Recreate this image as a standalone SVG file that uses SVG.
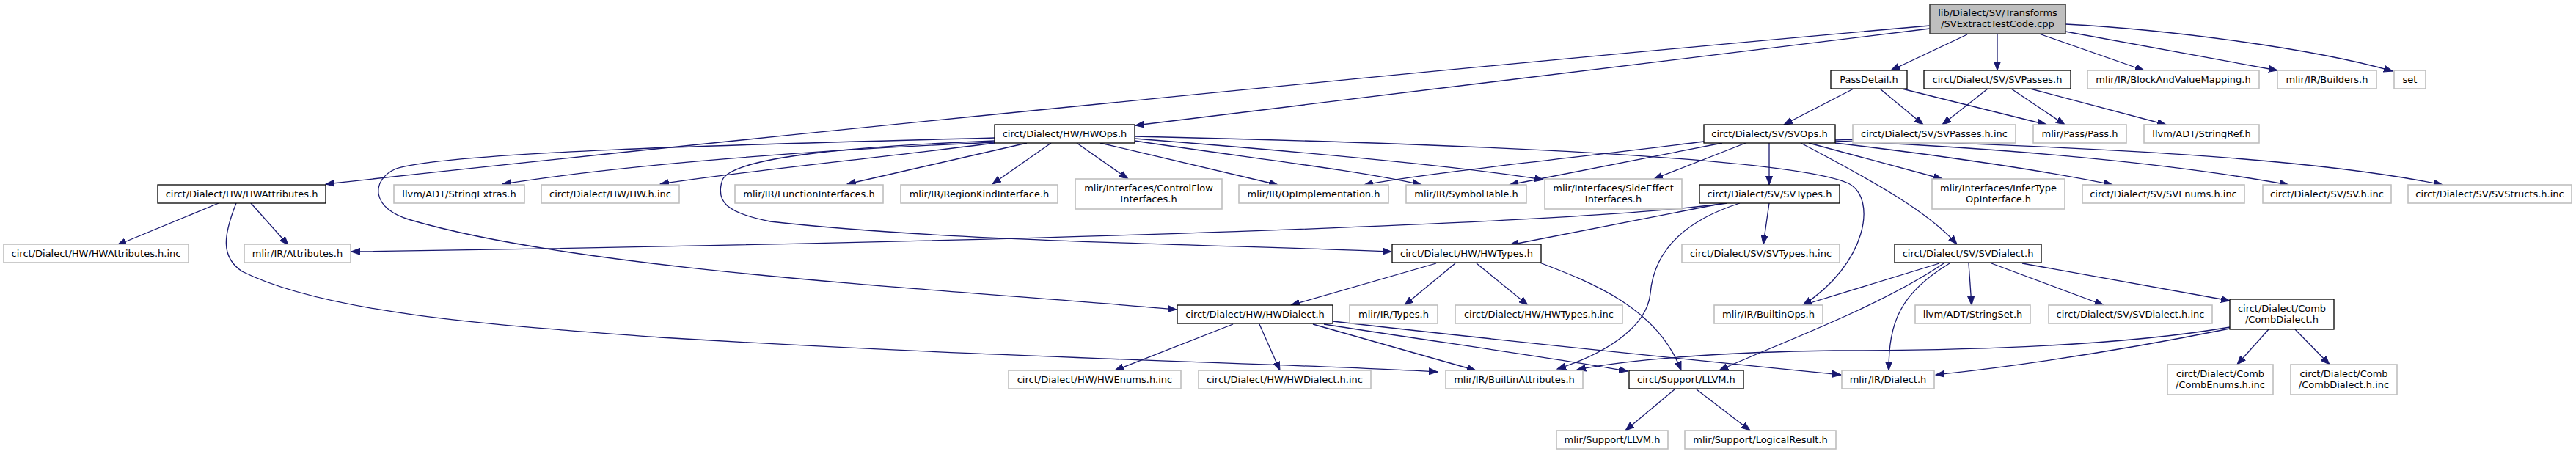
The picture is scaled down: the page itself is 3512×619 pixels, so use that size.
<svg xmlns="http://www.w3.org/2000/svg" width="3512" height="619" viewBox="0 0 3512 619">
<style>
.node rect{fill:#fff;stroke:#000;stroke-width:1.3}
.leaf rect{fill:#fff;stroke:#bfbfbf;stroke-width:1.6}
.main rect{fill:#bfbfbf;stroke:#404040;stroke-width:1.6}
text{font-family:"DejaVu Sans","Liberation Sans",sans-serif;font-size:13px;text-anchor:middle;fill:#000}
#edges path{fill:none;stroke:#191970;stroke-width:1.3;marker-end:url(#arr)}
</style>
<defs>
<marker id="arr" markerWidth="13" markerHeight="10" refX="12" refY="5" orient="auto" markerUnits="userSpaceOnUse">
<path d="M0,0.5 L12,5 L0,9.5 z" fill="#191970" stroke="#191970" stroke-width="1"/>
</marker>
</defs>
<rect width="3512" height="619" fill="#fff"/>
<g id="edges">
<path d="M2682,47 L2578,96"/>
<path d="M2723,46 L2723,96"/>
<path d="M2780,46 L2923,96"/>
<path d="M2816,43 L3105,96"/>
<path d="M2816,33 C2950,40 3150,65 3262,97"/>
<path d="M2631,35 C2000,90 1000,190 444,251"/>
<path d="M2631,39 L1548,171"/>
<path d="M2527,121 L2432,170"/>
<path d="M2563,121 L2622,170"/>
<path d="M2593,121 L2790,170"/>
<path d="M2710,121 L2648,170"/>
<path d="M2742,121 L2815,170"/>
<path d="M2768,121 L2953,170"/>
<path d="M1356,188 C1100,195 620,205 540,230 C505,245 505,285 560,300 C800,370 1300,395 1604,422"/>
<path d="M1356,192 C1150,200 1000,215 985,245 C975,275 990,290 1050,302 C1300,330 1650,333 1897,343"/>
<path d="M1356,194 C1100,205 850,225 685,251"/>
<path d="M1356,195 C1200,215 1000,235 900,251"/>
<path d="M1400,195 L1155,251"/>
<path d="M1433,195 L1353,251"/>
<path d="M1468,195 L1538,244"/>
<path d="M1500,195 L1742,252"/>
<path d="M1547,192 C1700,215 1850,232 1938,252"/>
<path d="M1547,189 C1750,205 1980,225 2104,245"/>
<path d="M1547,186 C2000,196 2440,215 2520,250 C2560,270 2545,360 2458,416"/>
<path d="M2323,193 C2150,215 1950,235 1860,252"/>
<path d="M2348,195 L2058,252"/>
<path d="M2380,195 L2255,244"/>
<path d="M2412,195 L2412,252"/>
<path d="M2466,195 L2648,244"/>
<path d="M2455,195 C2560,250 2630,290 2668,333"/>
<path d="M2502,195 C2650,212 2800,235 2880,252"/>
<path d="M2502,192 C2800,205 3000,230 3120,252"/>
<path d="M2502,190 C2850,200 3150,215 3330,252"/>
<path d="M2355,277 C2150,305 1400,330 479,343"/>
<path d="M2350,277 L2058,334"/>
<path d="M2412,277 L2404,333"/>
<path d="M2372,277 C2300,300 2255,340 2250,400 C2245,450 2180,485 2123,503"/>
<path d="M2644,359 L2458,416"/>
<path d="M2650,359 C2560,420 2420,470 2344,505"/>
<path d="M2658,359 C2590,400 2575,440 2575,505"/>
<path d="M2684,359 L2688,416"/>
<path d="M2715,359 L2868,416"/>
<path d="M2757,359 L3040,410"/>
<path d="M3093,449 L3050,497"/>
<path d="M3129,449 L3176,497"/>
<path d="M3040,446 C2900,470 2700,478 2500,478 C2350,480 2220,490 2150,504"/>
<path d="M3040,448 C2880,480 2760,498 2639,511"/>
<path d="M1958,359 L1760,416"/>
<path d="M1984,359 L1915,416"/>
<path d="M2013,359 L2083,416"/>
<path d="M2099,358 C2170,385 2260,420 2292,505"/>
<path d="M1681,442 L1520,505"/>
<path d="M1717,442 L1745,505"/>
<path d="M1790,442 L2012,505"/>
<path d="M1805,442 C1950,465 2100,485 2219,506"/>
<path d="M1817,438 C2050,465 2300,490 2510,511"/>
<path d="M298,277 L160,334"/>
<path d="M342,277 L393,334"/>
<path d="M322,277 C305,320 300,350 330,370 C450,430 700,445 900,460 C1400,490 1750,495 1960,507"/>
<path d="M2283,531 L2216,587"/>
<path d="M2313,531 L2386,587"/>
</g>
<g id="n_main" class="main"><rect x="2631" y="6" width="185" height="40"/><text x="2723.5" y="21.5">lib/Dialect/SV/Transforms</text><text x="2723.5" y="37">/SVExtractTestCode.cpp</text></g>
<g id="n_passdetail" class="node"><rect x="2496" y="96" width="104" height="25"/><text x="2548" y="113">PassDetail.h</text></g>
<g id="n_svpasses" class="node"><rect x="2623" y="96" width="200" height="25"/><text x="2723" y="113">circt/Dialect/SV/SVPasses.h</text></g>
<g id="n_bavm" class="leaf"><rect x="2846" y="96" width="234" height="25"/><text x="2963" y="113">mlir/IR/BlockAndValueMapping.h</text></g>
<g id="n_builders" class="leaf"><rect x="3105" y="96" width="135" height="25"/><text x="3172.5" y="113">mlir/IR/Builders.h</text></g>
<g id="n_set" class="leaf"><rect x="3264" y="96" width="43" height="25"/><text x="3285.5" y="113">set</text></g>
<g id="n_hwops" class="node"><rect x="1356" y="170" width="191" height="25"/><text x="1451.5" y="187">circt/Dialect/HW/HWOps.h</text></g>
<g id="n_svops" class="node"><rect x="2323" y="170" width="179" height="25"/><text x="2412.5" y="187">circt/Dialect/SV/SVOps.h</text></g>
<g id="n_svpassesinc" class="leaf"><rect x="2526" y="170" width="222" height="25"/><text x="2637" y="187">circt/Dialect/SV/SVPasses.h.inc</text></g>
<g id="n_pass" class="leaf"><rect x="2772" y="170" width="127" height="25"/><text x="2835.5" y="187">mlir/Pass/Pass.h</text></g>
<g id="n_stringref" class="leaf"><rect x="2923" y="170" width="157" height="25"/><text x="3001.5" y="187">llvm/ADT/StringRef.h</text></g>
<g id="n_hwattr" class="node"><rect x="215" y="252" width="229" height="25"/><text x="329.5" y="269">circt/Dialect/HW/HWAttributes.h</text></g>
<g id="n_strext" class="leaf"><rect x="537" y="252" width="178" height="25"/><text x="626" y="269">llvm/ADT/StringExtras.h</text></g>
<g id="n_hwinc" class="leaf"><rect x="738" y="252" width="188" height="25"/><text x="832" y="269">circt/Dialect/HW/HW.h.inc</text></g>
<g id="n_funcif" class="leaf"><rect x="1002" y="252" width="202" height="25"/><text x="1103" y="269">mlir/IR/FunctionInterfaces.h</text></g>
<g id="n_regionkind" class="leaf"><rect x="1228" y="252" width="214" height="25"/><text x="1335" y="269">mlir/IR/RegionKindInterface.h</text></g>
<g id="n_cflow" class="leaf"><rect x="1466" y="244" width="200" height="41"/><text x="1566" y="260.5">mlir/Interfaces/ControlFlow</text><text x="1566" y="276">Interfaces.h</text></g>
<g id="n_opimpl" class="leaf"><rect x="1689" y="252" width="204" height="25"/><text x="1791" y="269">mlir/IR/OpImplementation.h</text></g>
<g id="n_symtab" class="leaf"><rect x="1917" y="252" width="164" height="25"/><text x="1999" y="269">mlir/IR/SymbolTable.h</text></g>
<g id="n_sideeff" class="leaf"><rect x="2106" y="244" width="187" height="41"/><text x="2199.5" y="260.5">mlir/Interfaces/SideEffect</text><text x="2199.5" y="276">Interfaces.h</text></g>
<g id="n_svtypes" class="node"><rect x="2317" y="252" width="191" height="25"/><text x="2412.5" y="269">circt/Dialect/SV/SVTypes.h</text></g>
<g id="n_infer" class="leaf"><rect x="2634" y="244" width="181" height="41"/><text x="2724.5" y="260.5">mlir/Interfaces/InferType</text><text x="2724.5" y="276">OpInterface.h</text></g>
<g id="n_svenums" class="leaf"><rect x="2839" y="252" width="221" height="25"/><text x="2949.5" y="269">circt/Dialect/SV/SVEnums.h.inc</text></g>
<g id="n_svinc" class="leaf"><rect x="3085" y="252" width="175" height="25"/><text x="3172.5" y="269">circt/Dialect/SV/SV.h.inc</text></g>
<g id="n_svstructs" class="leaf"><rect x="3283" y="252" width="223" height="25"/><text x="3394.5" y="269">circt/Dialect/SV/SVStructs.h.inc</text></g>
<g id="n_hwattrinc" class="leaf"><rect x="5" y="333" width="252" height="25"/><text x="131" y="350">circt/Dialect/HW/HWAttributes.h.inc</text></g>
<g id="n_attr" class="leaf"><rect x="333" y="333" width="145" height="25"/><text x="405.5" y="350">mlir/IR/Attributes.h</text></g>
<g id="n_hwtypes" class="node"><rect x="1898" y="333" width="203" height="25"/><text x="1999.5" y="350">circt/Dialect/HW/HWTypes.h</text></g>
<g id="n_svtypesinc" class="leaf"><rect x="2293" y="333" width="215" height="25"/><text x="2400.5" y="350">circt/Dialect/SV/SVTypes.h.inc</text></g>
<g id="n_svdialect" class="node"><rect x="2583" y="333" width="200" height="25"/><text x="2683" y="350">circt/Dialect/SV/SVDialect.h</text></g>
<g id="n_hwdialect" class="node"><rect x="1605" y="416" width="212" height="25"/><text x="1711" y="433">circt/Dialect/HW/HWDialect.h</text></g>
<g id="n_types" class="leaf"><rect x="1840" y="416" width="120" height="25"/><text x="1900" y="433">mlir/IR/Types.h</text></g>
<g id="n_hwtypesinc" class="leaf"><rect x="1984" y="416" width="228" height="25"/><text x="2098" y="433">circt/Dialect/HW/HWTypes.h.inc</text></g>
<g id="n_builtinops" class="leaf"><rect x="2337" y="416" width="148" height="25"/><text x="2411" y="433">mlir/IR/BuiltinOps.h</text></g>
<g id="n_stringset" class="leaf"><rect x="2611" y="416" width="157" height="25"/><text x="2689.5" y="433">llvm/ADT/StringSet.h</text></g>
<g id="n_svdialectinc" class="leaf"><rect x="2793" y="416" width="223" height="25"/><text x="2904.5" y="433">circt/Dialect/SV/SVDialect.h.inc</text></g>
<g id="n_combdialect" class="node"><rect x="3040" y="408" width="142" height="41"/><text x="3111" y="424.5">circt/Dialect/Comb</text><text x="3111" y="440">/CombDialect.h</text></g>
<g id="n_hwenums" class="leaf"><rect x="1375" y="505" width="235" height="25"/><text x="1492.5" y="522">circt/Dialect/HW/HWEnums.h.inc</text></g>
<g id="n_hwdialectinc" class="leaf"><rect x="1634" y="505" width="235" height="25"/><text x="1751.5" y="522">circt/Dialect/HW/HWDialect.h.inc</text></g>
<g id="n_builtinattr" class="leaf"><rect x="1971" y="505" width="187" height="25"/><text x="2064.5" y="522">mlir/IR/BuiltinAttributes.h</text></g>
<g id="n_llvm" class="node"><rect x="2221" y="505" width="156" height="25"/><text x="2299" y="522">circt/Support/LLVM.h</text></g>
<g id="n_dialect" class="leaf"><rect x="2511" y="505" width="126" height="25"/><text x="2574" y="522">mlir/IR/Dialect.h</text></g>
<g id="n_combenums" class="leaf"><rect x="2955" y="497" width="144" height="41"/><text x="3027" y="513.5">circt/Dialect/Comb</text><text x="3027" y="529">/CombEnums.h.inc</text></g>
<g id="n_combdialinc" class="leaf"><rect x="3123" y="497" width="145" height="41"/><text x="3195.5" y="513.5">circt/Dialect/Comb</text><text x="3195.5" y="529">/CombDialect.h.inc</text></g>
<g id="n_mlirllvm" class="leaf"><rect x="2122" y="587" width="152" height="25"/><text x="2198" y="604">mlir/Support/LLVM.h</text></g>
<g id="n_logical" class="leaf"><rect x="2297" y="587" width="206" height="25"/><text x="2400" y="604">mlir/Support/LogicalResult.h</text></g>
</svg>
